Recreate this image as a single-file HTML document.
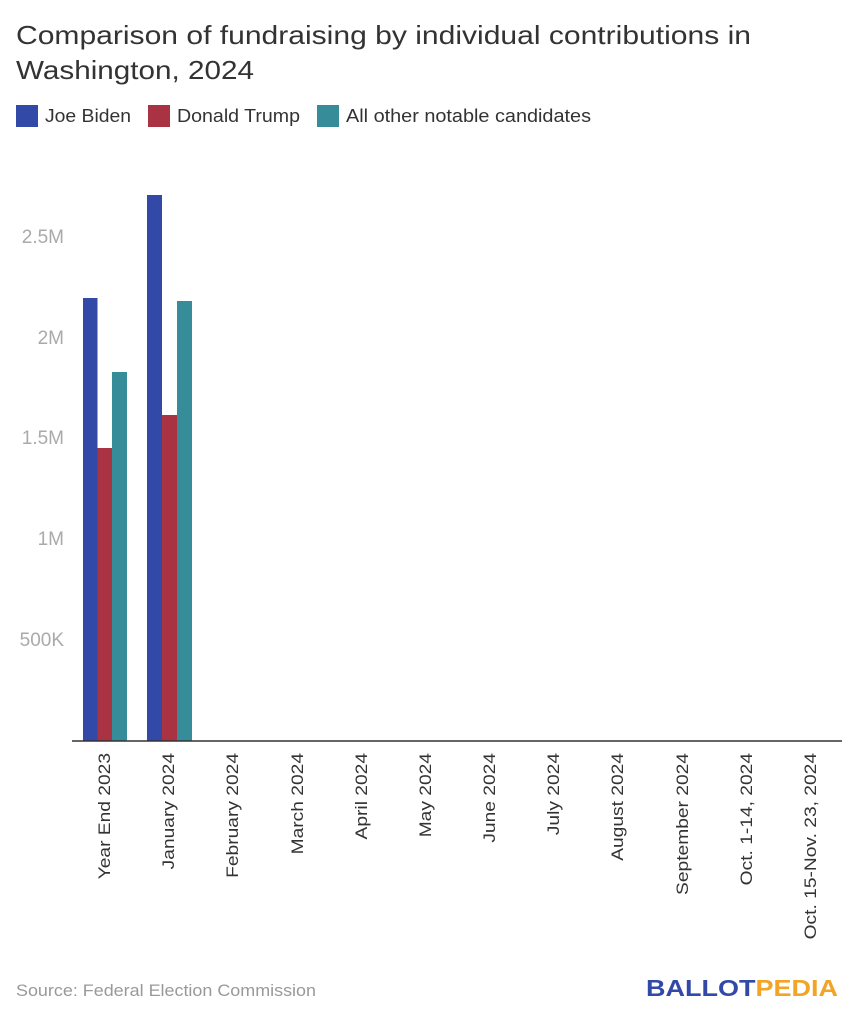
<!DOCTYPE html>
<html><head><style>
body{margin:0;background:#fff;font-family:"Liberation Sans",sans-serif;}
</style></head><body>
<svg width="859" height="1024" xmlns="http://www.w3.org/2000/svg" font-family="Liberation Sans, sans-serif">
<text x="16" y="44" font-size="26" fill="#333" textLength="735" lengthAdjust="spacingAndGlyphs">Comparison of fundraising by individual contributions in</text>
<text x="16" y="79" font-size="26" fill="#333" textLength="238" lengthAdjust="spacingAndGlyphs">Washington, 2024</text>
<rect x="16" y="105" width="22" height="22" fill="#3349a8"/>
<text x="45" y="122" font-size="18" fill="#333" textLength="86" lengthAdjust="spacingAndGlyphs">Joe Biden</text>
<rect x="148" y="105" width="22" height="22" fill="#a93343"/>
<text x="177" y="122" font-size="18" fill="#333" textLength="123" lengthAdjust="spacingAndGlyphs">Donald Trump</text>
<rect x="317" y="105" width="22" height="22" fill="#368d99"/>
<text x="346" y="122" font-size="18" fill="#333" textLength="245" lengthAdjust="spacingAndGlyphs">All other notable candidates</text>
<g font-size="19" fill="#aaa" text-anchor="end">
<text x="64" y="243">2.5M</text><text x="64" y="344">2M</text><text x="64" y="444">1.5M</text><text x="64" y="545">1M</text><text x="64" y="646">500K</text>
</g>
<rect x="83" y="298" width="14.5" height="443" fill="#3349a8"/>
<rect x="97.5" y="448" width="14.5" height="293" fill="#a93343"/>
<rect x="112" y="372" width="15" height="369" fill="#368d99"/>
<rect x="147" y="195" width="15" height="546" fill="#3349a8"/>
<rect x="162" y="415" width="15" height="326" fill="#a93343"/>
<rect x="177" y="301" width="15" height="440" fill="#368d99"/>
<line x1="72" y1="741" x2="842" y2="741" stroke="#333" stroke-width="1.5"/>
<g font-size="17" fill="#333" text-anchor="end">
<text transform="translate(110,753) rotate(-90) scale(1.13,1)">Year End 2023</text>
<text transform="translate(174,753) rotate(-90) scale(1.13,1)">January 2024</text>
<text transform="translate(238,753) rotate(-90) scale(1.13,1)">February 2024</text>
<text transform="translate(303,753) rotate(-90) scale(1.13,1)">March 2024</text>
<text transform="translate(367,753) rotate(-90) scale(1.13,1)">April 2024</text>
<text transform="translate(431,753) rotate(-90) scale(1.13,1)">May 2024</text>
<text transform="translate(495,753) rotate(-90) scale(1.13,1)">June 2024</text>
<text transform="translate(559,753) rotate(-90) scale(1.13,1)">July 2024</text>
<text transform="translate(623,753) rotate(-90) scale(1.13,1)">August 2024</text>
<text transform="translate(688,753) rotate(-90) scale(1.13,1)">September 2024</text>
<text transform="translate(752,753) rotate(-90) scale(1.13,1)">Oct. 1-14, 2024</text>
<text transform="translate(816,753) rotate(-90) scale(1.13,1)">Oct. 15-Nov. 23, 2024</text>
</g>
<text x="16" y="996" font-size="17" fill="#999" textLength="300" lengthAdjust="spacingAndGlyphs">Source: Federal Election Commission</text>
<text x="646" y="996" font-size="23" font-weight="bold" fill="#3349a8" textLength="192" lengthAdjust="spacingAndGlyphs">BALLOT<tspan fill="#f2a426">PEDIA</tspan></text>
</svg>
</body></html>
